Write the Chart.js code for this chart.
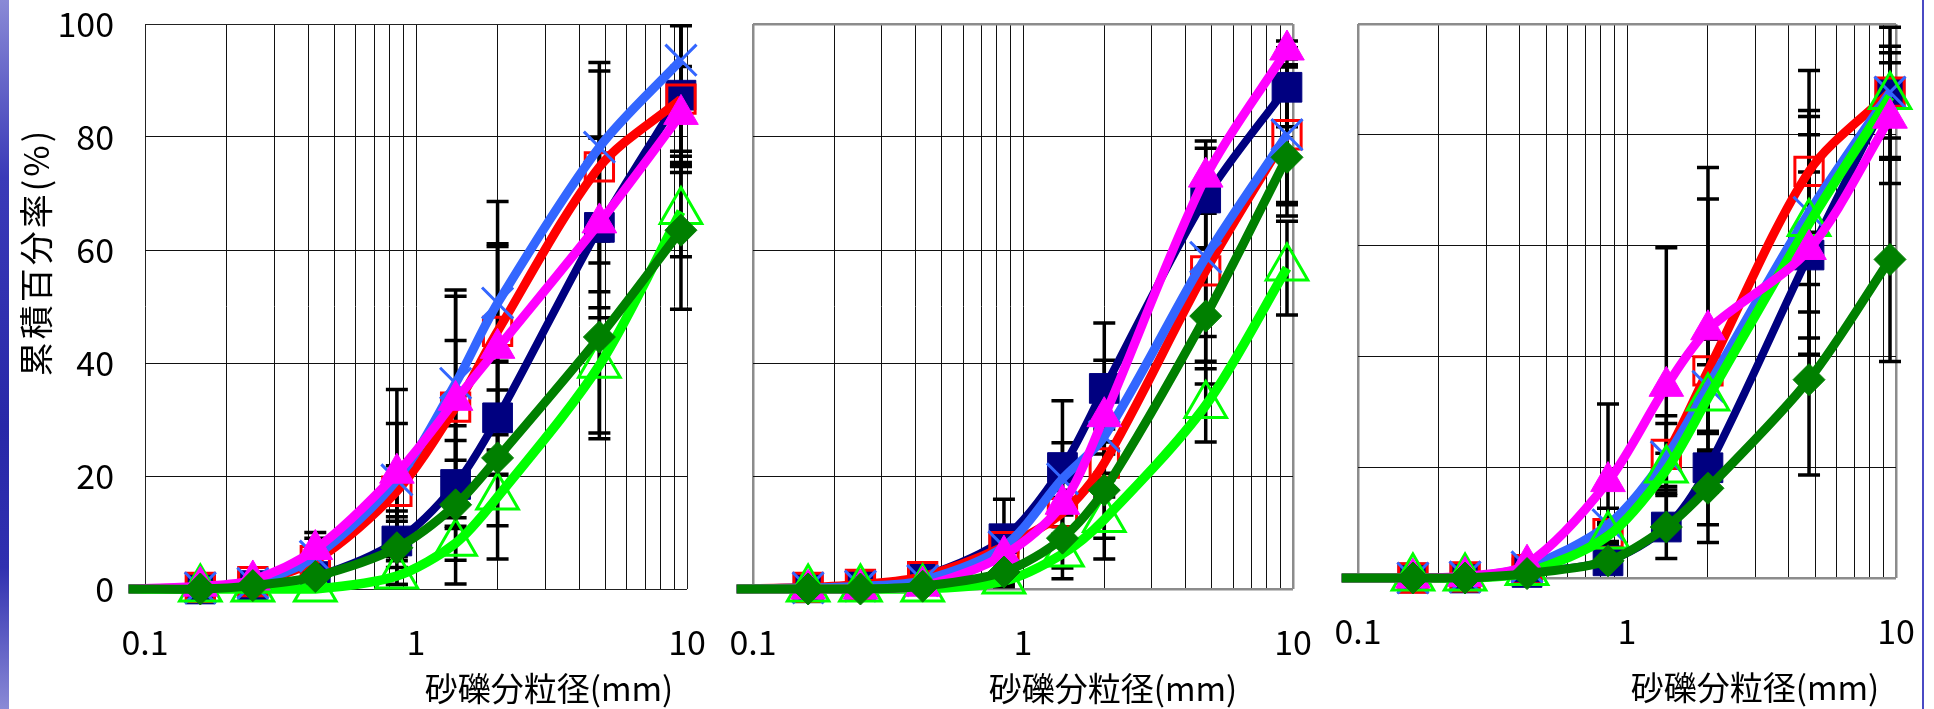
<!DOCTYPE html>
<html>
<head>
<meta charset="utf-8">
<script src="https://cdn.jsdelivr.net/npm/chart.js"></script>
<style>
  body { margin: 0; background: #fff; width: 1934px; height: 709px; overflow: hidden; position: relative; }
  canvas { position: absolute; top: 0; }
  .strip { position: absolute; left: 0; top: 0; width: 9px; height: 709px; z-index: 5;
    background: linear-gradient(to bottom, #8a8ad6, #3a3ab8 25%, #2828a8 60%, #3030b0 80%, #8a8ad6); }
  .edge { position: absolute; left: 1922px; top: 0; width: 2px; height: 709px; background: #4a4ac4; z-index: 5; }
</style>
</head>
<body>
<div class="strip"></div>
<div class="edge"></div>
<canvas id="c1" width="720" height="709" style="left:0px"></canvas>
<canvas id="c2" width="600" height="709" style="left:720px"></canvas>
<canvas id="c3" width="614" height="709" style="left:1320px"></canvas>
<script>
// sieve sizes (mm); first entry is the start of the curves, no marker
const sizes = [0.087, 0.16, 0.25, 0.425, 0.85, 1.4, 2, 4.75, 9.5];
const gridX = [0.1, 0.2, 0.3, 0.4, 0.5, 0.6, 0.7, 0.8, 0.9, 1, 2, 3, 4, 5, 6, 7, 8, 9, 10];
const xTickValues = [0.1, 1, 10];
const xTickLabels = ['0.1', '1', '10'];
const yTicks = [0, 20, 40, 60, 80, 100];
const xTitle = '砂礫分粒径(mm)';
const yTitle = '累積百分率(%)';

// series order (bottom to top): navy, red, blue, lgreen, pink, dgreen
// panel 1
const a_navy   = [0, 0, 0.6, 2.2, 8.5, 18.5, 30.3, 64, 87.4];
const a_red    = [0, 0.3, 1.3, 5, 17.3, 32.2, 45.6, 74.7, 86.7];
const a_blue   = [0, 0.2, 1.0, 5.8, 19.3, 36.4, 50.6, 78.2, 93.6];
const a_lgreen = [0, 0, 0, 0, 2.3, 8.1, 16.3, 39.6, 66.8];
const a_pink   = [0, 0.5, 1.6, 7, 20.5, 33.4, 42.6, 64.8, 84];
const a_dgreen = [0, 0, 0.6, 2.2, 7.3, 14.9, 23.2, 44.6, 63.5];
const a_navyErr   = [0, 0.3, 0.5, 1, 3.5, 7.8, 10, 16, 12.5];
const a_redErr    = [0, 0.3, 0.5, 2, 4.5, 19.6, 15.5, 17, 13];
const a_blueErr   = [0, 0.3, 0.5, 3.2, 10, 16.5, 18, 15, 17];
const a_lgreenErr = [0, 0, 0, 0.3, 1.5, 3, 11, 13, 8];
const a_pinkErr   = [0, 0.5, 1, 3, 14.8, 10.6, 18, 15, 8.5];
const a_dgreenErr = [0, 0.3, 0.5, 1, 6.5, 14, 12, 17, 14];

// panel 2
const b_navy   = [0, 0.2, 0.6, 2.2, 8.9, 21.5, 35.5, 69.2, 88.8];
const b_red    = [0, 0.3, 0.8, 2.2, 7.5, 13.5, 22.3, 56.3, 80.4];
const b_blue   = [0, 0.2, 0.5, 1.5, 7.5, 19.5, 27, 58.7, 80.4];
const b_lgreen = [0, 0, 0, 0, 1.4, 6.2, 12.3, 32.5, 56.8];
const b_pink   = [0, 0, 0, 0.5, 6, 15, 30.5, 72.9, 95.4];
const b_dgreen = [0, 0, 0, 0.5, 3, 9, 17.5, 48.3, 76.4];
const b_navyErr   = [0, 0.3, 0.5, 1, 7, 11.8, 11.6, 8.8, 7];
const b_redErr    = [0, 0.3, 0.5, 1, 3, 4, 6, 16, 12.4];
const b_blueErr   = [0, 0.3, 0.5, 1, 3, 6.4, 10, 14, 12];
const b_lgreenErr = [0, 0, 0, 0.3, 1, 2.5, 7, 6.5, 8.3];
const b_pinkErr   = [0, 0, 0, 0.5, 3, 4, 10, 6.4, 1.6];
const b_dgreenErr = [0, 0, 0, 0.5, 2, 7.2, 8.5, 12, 10.4];

// panel 3
const c_navy   = [0, 0, 0, 1, 3.1, 9.2, 19.9, 58.3, 87.5];
const c_red    = [0, 0, 0.2, 1.5, 8, 22.3, 37.4, 73.4, 87.7];
const c_blue   = [0, 0, 0.2, 2, 9.6, 21.9, 34.6, 66, 87.7];
const c_lgreen = [0, 0, 0, 1, 7.6, 19.5, 32.5, 64, 86.9];
const c_pink   = [0, 0, 0.3, 2.5, 17.4, 34.6, 44.8, 59.3, 83];
const c_dgreen = [0, 0, 0, 0.8, 3.1, 9.2, 16.2, 35.8, 57.5];
const c_navyErr   = [0, 0, 0, 0.5, 1, 5.7, 3.2, 15, 11.9];
const c_redErr    = [0, 0, 0.3, 1, 2, 7, 31, 11, 8.3];
const c_blueErr   = [0, 0, 0.3, 2, 3, 6, 8.5, 25.6, 5.3];
const c_lgreenErr = [0, 0, 0, 0.5, 2, 3, 6, 16, 2];
const c_pinkErr   = [0, 0, 0.3, 1.5, 14, 25, 29.3, 24, 11.8];
const c_dgreenErr = [0, 0, 0, 0.5, 1, 2, 6.6, 17.2, 18.4];

const family = '"Noto Sans CJK JP", "Noto Sans", sans-serif';

const styles = [
  { color: '#000080', fill: '#000080', shape: 'rect', r: 21, pbw: 1, lw: 8 },
  { color: '#ff0000', fill: 'rgba(0,0,0,0)', shape: 'rect', r: 20, pbw: 3, lw: 9 },
  { color: '#3366ff', fill: 'rgba(0,0,0,0)', shape: 'crossRot', r: 22, pbw: 3, lw: 9 },
  { color: '#00ff00', fill: 'rgba(0,0,0,0)', shape: 'triangle', r: 24, pbw: 3, lw: 9.5 },
  { color: '#ff00ff', fill: '#ff00ff', shape: 'triangle', r: 20, pbw: 1, lw: 9 },
  { color: '#008000', fill: '#008000', shape: 'rectRot', r: 16, pbw: 1, lw: 9 }
];

const errorBars = {
  id: 'errorBars',
  beforeDatasetsDraw(chart) {
    const { ctx, chartArea: a, scales: { x, y } } = chart;
    ctx.save();
    ctx.beginPath();
    ctx.rect(a.left - 40, a.top, a.right - a.left + 80, a.bottom - a.top);
    ctx.clip();
    ctx.strokeStyle = '#000';
    ctx.lineWidth = 3.5;
    chart.data.datasets.forEach(ds => {
      ds.data.forEach((p, j) => {
        const e = ds.errs[j];
        if (!e) return;
        const px = x.getPixelForValue(p.x);
        const y1 = y.getPixelForValue(p.y + e);
        const y2 = y.getPixelForValue(p.y - e);
        ctx.beginPath();
        ctx.moveTo(px, y1); ctx.lineTo(px, y2);
        ctx.moveTo(px - 11, y1); ctx.lineTo(px + 11, y1);
        ctx.moveTo(px - 11, y2); ctx.lineTo(px + 11, y2);
        ctx.stroke();
      });
    });
    ctx.restore();
  }
};

const axisTitles = {
  id: 'axisTitles',
  afterDraw(chart, args, o) {
    const ctx = chart.ctx;
    ctx.save();
    ctx.fillStyle = '#000';
    ctx.textAlign = 'center';
    ctx.textBaseline = 'middle';
    ctx.font = o.size + 'px ' + family;
    ctx.fillText(xTitle, o.xAt[0], o.xAt[1]);
    if (o.yAt) {
      ctx.font = o.ySize + 'px ' + family;
      ctx.letterSpacing = '3px';
      ctx.translate(o.yAt[0], o.yAt[1]);
      ctx.rotate(-Math.PI / 2);
      ctx.fillText(yTitle, 0, 0);
    }
    ctx.restore();
  }
};

// keep the plot area where the layout padding puts it
function noEdgePadding(s) {
  s.paddingTop = 0; s.paddingBottom = 0; s.paddingLeft = 0; s.paddingRight = 0;
}

function makeChart(id, series, errs, p) {
  const n = series.length;
  const datasets = series.map((vals, i) => {
    const s = styles[i];
    return {
      data: sizes.map((x, j) => ({ x: x, y: vals[j] })),
      errs: errs[i],
      order: n - 1 - i,
      borderColor: s.color,
      backgroundColor: s.fill,
      borderWidth: s.lw,
      borderJoinStyle: 'round',
      tension: 0.3,
      clip: false,
      pointStyle: s.shape,
      pointRadius: ctx => ctx.dataIndex === 0 ? 0 : s.r,
      pointBorderWidth: s.pbw,
      pointBorderColor: s.color,
      pointBackgroundColor: s.fill
    };
  });
  const edge = v => v === 0.1 || v === 10 || v === 0 || v === 100;
  new Chart(document.getElementById(id), {
    type: 'line',
    data: { datasets: datasets },
    options: {
      responsive: false,
      animation: false,
      events: [],
      layout: { autoPadding: false, padding: { top: 24, right: p.padR, left: 0, bottom: 0 } },
      plugins: {
        legend: { display: false },
        tooltip: { enabled: false },
        axisTitles: { size: 33, ySize: 34, xAt: p.xAt, yAt: p.yAt }
      },
      scales: {
        x: {
          type: 'logarithmic',
          min: 0.1,
          max: 10,
          afterBuildTicks: s => { s.ticks = gridX.map(v => ({ value: v })); },
          afterFit: s => { s.height = p.xH; noEdgePadding(s); },
          ticks: {
            autoSkip: false,
            maxRotation: 0,
            padding: 33,
            color: '#000',
            font: { size: 34, family: family },
            callback: v => {
              const k = xTickValues.indexOf(v);
              return k >= 0 ? xTickLabels[k] : '';
            }
          },
          grid: {
            drawTicks: false,
            color: c => edge(c.tick.value) ? p.frame : '#111',
            lineWidth: c => edge(c.tick.value) ? p.frameW : 1
          },
          border: { display: false }
        },
        y: {
          min: 0,
          max: 100,
          afterBuildTicks: s => { s.ticks = yTicks.map(v => ({ value: v })); },
          afterFit: s => { s.width = p.yW; noEdgePadding(s); },
          ticks: {
            display: p.yLabels,
            padding: 31,
            color: '#000',
            font: { size: 34, family: family }
          },
          grid: {
            drawTicks: false,
            color: c => edge(c.tick.value) ? p.frame : '#111',
            lineWidth: c => edge(c.tick.value) ? p.frameW : 1
          },
          border: { display: false }
        }
      }
    },
    plugins: [errorBars, axisTitles]
  });
}

makeChart('c1',
  [a_navy, a_red, a_blue, a_lgreen, a_pink, a_dgreen],
  [a_navyErr, a_redErr, a_blueErr, a_lgreenErr, a_pinkErr, a_dgreenErr],
  { yW: 145, padR: 33, xH: 120, yLabels: true, frame: '#222', frameW: 1, xAt: [549, 688], yAt: [36, 252] });
makeChart('c2',
  [b_navy, b_red, b_blue, b_lgreen, b_pink, b_dgreen],
  [b_navyErr, b_redErr, b_blueErr, b_lgreenErr, b_pinkErr, b_dgreenErr],
  { yW: 33, padR: 27, xH: 120, yLabels: false, frame: '#8c8c8c', frameW: 2.5, xAt: [393, 688] });
makeChart('c3',
  [c_navy, c_red, c_blue, c_lgreen, c_pink, c_dgreen],
  [c_navyErr, c_redErr, c_blueErr, c_lgreenErr, c_pinkErr, c_dgreenErr],
  { yW: 38, padR: 38, xH: 131, yLabels: false, frame: '#8c8c8c', frameW: 2.5, xAt: [435, 687] });
</script>
</body>
</html>
